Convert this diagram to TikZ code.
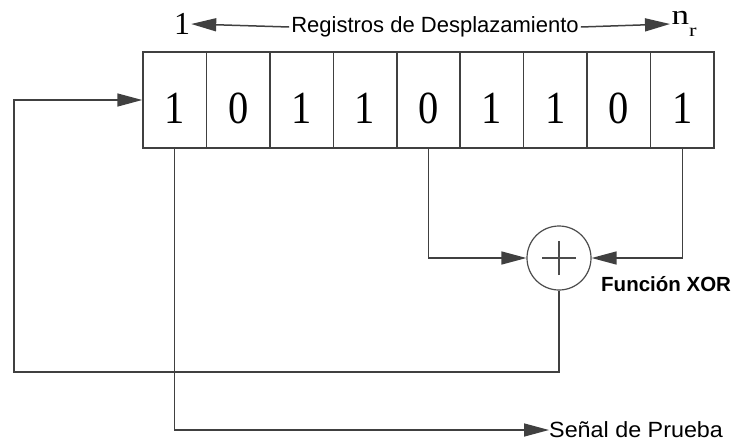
\documentclass[tikz,border=0pt]{standalone}
\usepackage{fontspec}
\setmainfont{Liberation Serif}
\newfontfamily\lab{Liberation Sans}
\usetikzlibrary{arrows.meta}
\tikzset{
  wire/.style={line width=1.5pt, draw=black!75},
  arr/.style={wire, -{Triangle[length=25pt,width=13pt]}},
  cellbox/.style={draw=black!75, line width=1.5pt, minimum width=63.44pt, minimum height=96pt, inner sep=0pt},
  digit/.style={font=\fontsize{46}{46}\selectfont, xscale=0.88, inner sep=0pt},
  lbl/.style={font=\lab\fontsize{22}{22}\selectfont, inner sep=2pt},
  big/.style={font=\fontsize{32}{32}\selectfont, inner sep=1pt}
}
\begin{document}
\begin{tikzpicture}[x=1pt,y=-1pt]
\useasboundingbox (0,0) rectangle (738,442);
% cells
\foreach \i/\d in {1/1,2/0,3/1,4/1,5/0,6/1,7/1,8/0,9/1}{
  \node[cellbox] (c\i) at ({143+63.44*(\i-0.5)},100) {};
  \node[digit] (d\i) at ({143+63.44*(\i-0.5)},108) {\d};
}
% top labels
\node[big] (one) at (182,24) {1};
\node[font=\fontsize{28}{28}\selectfont, inner sep=1pt, anchor=west, xscale=1.25] (nr) at (670,24) {n\raisebox{-0.45em}{\fontsize{18}{18}\selectfont r}};
\node[lbl] (reg) at (435,27) {Registros de Desplazamiento};
\draw[arr] (reg.west) -- (one.east);
\draw[arr] (reg.east) -- (nr.west);
% XOR
\node[circle, draw=black!70, line width=1.2pt, minimum size=64pt, inner sep=0pt] (x) at (559,258) {};
\draw[line width=1.2pt, draw=black!70] ([xshift=-17pt]x.center) -- ([xshift=17pt]x.center)
  ([yshift=-17pt]x.center) -- ([yshift=17pt]x.center);
\node[font=\lab\bfseries\fontsize{20.5}{20.5}\selectfont, inner sep=0pt, anchor=west] (xl) at (601,284) {Función XOR};
% taps
\draw[arr] (c5.south) |- (x.west);
\draw[arr] (c9.south) |- (x.east);
% feedback
\coordinate (fb) at (14,372);
\draw[arr] (x.south) |- (fb) |- (c1.west);
% output
\node[lbl, anchor=west, xscale=1.06, inner sep=0pt] (sp) at (549,430) {Señal de Prueba};
\draw[arr] (c1.south) |- (sp.west);
\end{tikzpicture}
\end{document}
